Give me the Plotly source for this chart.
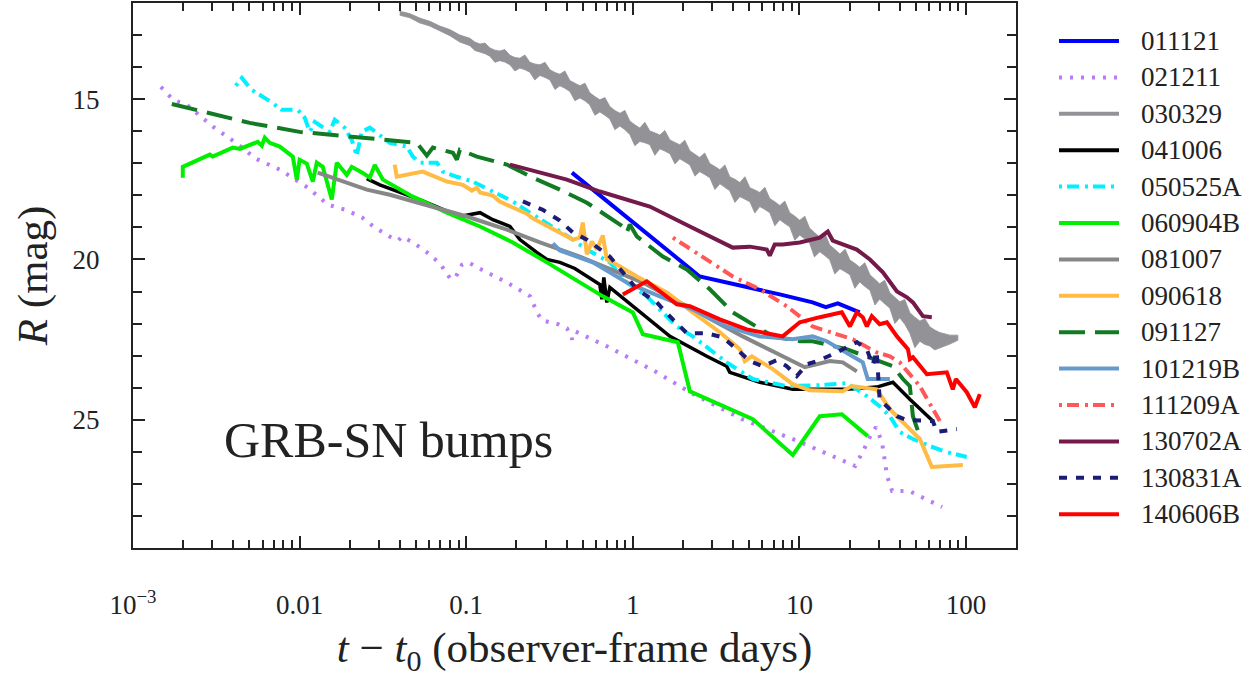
import numpy as np
import plotly.graph_objects as go

# ---------------- light-curve data (R magnitude vs. observer-frame days) -------------
names = ["011121", "021211", "030329", "041006", "050525A", "060904B", "081007",
         "090618", "091127", "101219B", "111209A", "130702A", "130831A", "140606B"]

t_011121 = [0.431, 2.52, 7.62, 12.0, 14.4, 17.0, 23.0]
R_011121 = [17.29, 20.53, 21.09, 21.34, 21.49, 21.37, 21.65]

t_021211 = [0.00147, 0.00174, 0.00211, 0.00302, 0.00415, 0.00547, 0.00762, 0.0112, 0.0148, 0.0188,
            0.0237, 0.0284, 0.0349, 0.0390, 0.0412, 0.0480, 0.0582, 0.0697, 0.0800, 0.0857,
            0.0944, 0.103, 0.126, 0.176, 0.242, 0.266, 0.285, 0.356, 0.403, 0.432,
            0.450, 0.700, 1.36, 2.30, 4.52, 9.82, 21.6, 24.1, 27.3, 28.8,
            31.3, 33.6, 36.0, 45.5, 71.8]
R_021211 = [14.62, 15.02, 15.18, 15.86, 16.36, 16.86, 17.20, 17.76, 18.29, 18.45,
            18.69, 19.01, 19.29, 19.41, 19.29, 19.47, 19.78, 20.13, 20.59, 20.59,
            20.16, 20.09, 20.34, 20.72, 21.15, 21.65, 21.90, 22.02, 22.15, 22.49,
            22.24, 22.71, 23.49, 24.20, 24.98, 25.67, 26.44, 25.98, 25.39, 25.23,
            25.70, 26.76, 27.22, 27.22, 27.72]

# 030329 is densely sampled: kept as its bright / faint envelope
t_030329 = [0.0399, 0.0458, 0.0526, 0.0605, 0.0695, 0.0798, 0.0916, 0.1052,
            0.1127, 0.121, 0.1297, 0.1387, 0.1487, 0.159, 0.1705, 0.183, 0.196, 0.210,
            0.225, 0.241, 0.258, 0.277, 0.297, 0.318, 0.341, 0.365, 0.391, 0.419,
            0.449, 0.481, 0.516, 0.552, 0.592, 0.634, 0.680, 0.728, 0.780, 0.836,
            0.896, 0.959, 1.028, 1.102, 1.181, 1.265, 1.356, 1.452, 1.557, 1.67,
            1.79, 1.914, 2.05, 2.20, 2.36, 2.52, 2.70, 2.90, 3.11, 3.33,
            3.57, 3.82, 4.10, 4.39, 4.71, 5.04, 5.40, 5.78, 6.20, 6.64,
            7.12, 7.62, 8.17, 8.75, 9.38, 10.05, 10.77, 11.5, 12.3, 13.25,
            14.2, 15.2, 16.3, 17.5, 18.8, 20.1, 21.5, 23.0, 24.7, 26.5,
            28.4, 30.3, 32.5, 34.9, 37.4, 40.0, 42.9, 46.0, 49.3, 52.8,
            56.6, 60.6, 64.9, 69.6, 80.0, 89.3]
R_030329_bright = [12.26, 12.33, 12.47, 12.57, 12.72, 12.83, 13.00, 13.10,
                   13.22, 13.28, 13.25, 13.40, 13.47, 13.50, 13.45, 13.63, 13.70, 13.72,
                   13.62, 13.85, 13.90, 13.93, 13.85, 14.08, 14.17, 14.22, 14.12, 14.42,
                   14.50, 14.58, 14.50, 14.80, 14.92, 15.02, 14.95, 15.23, 15.35, 15.44,
                   15.35, 15.68, 15.80, 15.90, 15.72, 15.99, 16.05, 16.12, 15.98, 16.27,
                   16.35, 16.42, 16.28, 16.61, 16.72, 16.82, 16.68, 17.01, 17.10, 17.20,
                   17.05, 17.42, 17.50, 17.60, 17.42, 17.76, 17.83, 17.91, 17.75, 18.10,
                   18.20, 18.32, 18.18, 18.54, 18.65, 18.78, 18.65, 19.02, 19.16, 19.30,
                   19.18, 19.55, 19.68, 19.83, 19.68, 20.02, 20.12, 20.24, 20.10, 20.48,
                   20.62, 20.76, 20.65, 21.04, 21.18, 21.32, 21.25, 21.66, 21.80, 21.92,
                   21.85, 22.10, 22.20, 22.28, 22.36, 22.36]
R_030329_faint = [12.38, 12.46, 12.62, 12.72, 12.88, 13.02, 13.22, 13.33,
                  13.48, 13.52, 13.58, 13.66, 13.85, 13.80, 13.84, 13.93, 14.12, 14.03,
                  14.08, 14.16, 14.40, 14.26, 14.32, 14.40, 14.70, 14.58, 14.66, 14.76,
                  15.05, 14.96, 15.05, 15.18, 15.50, 15.40, 15.50, 15.62, 15.95, 15.84,
                  15.95, 16.10, 16.45, 16.32, 16.36, 16.42, 16.75, 16.55, 16.62, 16.70,
                  17.02, 16.86, 16.95, 17.05, 17.40, 17.26, 17.35, 17.45, 17.82, 17.64,
                  17.75, 17.86, 18.22, 18.04, 18.12, 18.20, 18.55, 18.35, 18.44, 18.54,
                  18.95, 18.76, 18.88, 18.98, 19.40, 19.24, 19.36, 19.48, 19.92, 19.76,
                  19.88, 20.01, 20.45, 20.29, 20.38, 20.48, 20.90, 20.70, 20.84, 20.96,
                  21.42, 21.24, 21.38, 21.52, 22.00, 21.82, 22.02, 22.30, 22.75, 22.55,
                  22.65, 22.70, 22.82, 22.76, 22.64, 22.52]

t_041006 = [0.0253, 0.0303, 0.0526, 0.0916, 0.121, 0.1445, 0.183, 0.210, 0.265, 0.305,
            0.365, 0.449, 0.634, 0.652, 0.670, 0.698, 0.728, 1.057, 1.67, 2.78,
            3.66, 3.82, 5.78, 9.12, 19.2, 29.1, 36.4, 46.0, 63.2]
R_041006 = [17.48, 17.67, 18.13, 18.66, 18.54, 18.76, 18.97, 19.38, 19.78, 20.00,
            20.09, 20.28, 20.78, 21.24, 20.56, 21.34, 20.87, 21.56, 22.40, 23.02,
            23.33, 23.52, 23.83, 24.05, 24.05, 23.98, 23.83, 24.36, 25.04]

t_050525A = [0.00414, 0.00450, 0.00516, 0.00644, 0.00782, 0.00975, 0.01074, 0.01151, 0.01234, 0.01517,
             0.01626, 0.01866, 0.02056, 0.02203, 0.0236, 0.0264, 0.0348, 0.0440, 0.0478, 0.0526,
             0.0667, 0.0724, 0.0879, 0.1096, 0.1445, 0.1905, 0.251, 0.331, 0.419, 0.530,
             0.728, 0.920, 1.213, 1.452, 1.837, 2.29, 2.90, 3.66, 5.25, 8.40,
             13.25, 19.2, 22.1, 25.4, 30.3, 34.9, 40.0, 48.0, 60.6, 76.7,
             101.0]
R_050525A = [14.58, 14.34, 14.71, 15.02, 15.33, 15.33, 15.58, 16.02, 15.71, 16.02,
             15.64, 15.89, 16.27, 16.76, 16.02, 15.89, 16.36, 16.48, 16.79, 16.98,
             16.98, 17.26, 17.42, 17.57, 17.88, 18.19, 18.60, 18.97, 19.32, 19.69,
             20.09, 20.72, 21.15, 21.56, 22.09, 22.40, 22.80, 23.21, 23.73, 23.95,
             23.92, 23.86, 24.05, 24.26, 24.58, 24.89, 25.38, 25.60, 25.82, 26.01,
             26.16]

t_060904B = [0.00199, 0.00199, 0.00289, 0.00301, 0.00397, 0.00438, 0.00561, 0.00593, 0.00618, 0.00662,
             0.0076, 0.0091, 0.00962, 0.0100, 0.01104, 0.0120, 0.01268, 0.01377, 0.01560, 0.01671,
             0.01919, 0.02056, 0.02394, 0.0264, 0.02825, 0.0316, 0.0478, 0.0766, 0.121, 0.1905,
             0.305, 0.481, 0.661, 1.0, 1.148, 1.862, 2.20, 5.25, 9.12, 13.25,
             17.96, 25.7]
R_060904B = [17.45, 17.11, 16.73, 16.79, 16.51, 16.55, 16.33, 16.45, 16.20, 16.36,
             16.48, 16.79, 17.51, 16.89, 17.01, 17.57, 16.98, 17.11, 18.13, 16.98,
             17.36, 17.11, 17.30, 17.45, 17.05, 17.51, 18.04, 18.54, 18.97, 19.47,
             20.09, 20.72, 21.15, 21.65, 22.33, 22.58, 24.11, 24.98, 26.10, 24.89,
             24.83, 25.51]

t_081007 = [0.01285, 0.01919, 0.0253, 0.0348, 0.0605, 0.1009, 0.1754, 0.277, 0.481, 1.148,
            2.29, 4.57, 10.77, 15.2, 18.2, 22.1]
R_081007 = [17.29, 17.60, 17.82, 17.98, 18.35, 18.66, 19.07, 19.47, 19.91, 20.72,
            21.56, 22.40, 23.36, 23.17, 23.21, 23.49]

t_090618 = [0.0372, 0.0383, 0.0548, 0.0631, 0.0766, 0.0955, 0.1081, 0.1159, 0.121, 0.1445,
            0.159, 0.1905, 0.231, 0.251, 0.365, 0.437, 0.481, 0.501, 0.530, 0.568,
            0.608, 0.661, 0.698, 0.759, 1.057, 1.60, 2.29, 3.33, 4.39, 4.70,
            5.18, 6.92, 9.12, 11.5, 18.2, 20.6, 29.1, 34.9, 52.8, 62.3,
            95.7]
R_090618 = [17.04, 17.42, 17.26, 17.39, 17.57, 17.67, 17.85, 17.76, 17.91, 18.01,
            18.19, 18.38, 18.57, 18.72, 19.16, 19.38, 19.32, 18.85, 19.84, 19.44,
            19.69, 19.25, 20.00, 20.09, 20.53, 21.03, 21.65, 22.27, 22.80, 23.17,
            23.02, 23.42, 23.89, 24.08, 24.11, 23.95, 24.05, 24.67, 25.60, 26.47,
            26.41]

t_091127 = [0.00171, 0.00211, 0.00502, 0.0100, 0.0158, 0.0253, 0.0505, 0.0526, 0.0580, 0.0631,
            0.0832, 0.0879, 0.0916, 0.1159, 0.1754, 0.251, 0.365, 0.530, 0.759, 0.871,
            0.920, 0.959, 1.057, 1.514, 2.11, 2.90, 3.98, 5.78, 6.92, 10.05,
            12.0, 19.2, 27.5, 36.4, 41.8, 46.0, 48.0, 52.8]
R_091127 = [15.15, 15.27, 15.74, 16.02, 16.11, 16.20, 16.36, 16.48, 16.76, 16.51,
            16.67, 16.89, 16.58, 16.79, 17.04, 17.45, 17.82, 18.23, 18.76, 18.97,
            19.16, 18.91, 19.28, 19.91, 20.31, 20.93, 21.65, 22.18, 22.40, 22.55,
            22.55, 22.80, 23.11, 23.33, 23.73, 23.95, 24.89, 25.51]

t_101219B = [0.331, 0.365, 0.575, 0.920, 1.452, 2.29, 3.66, 5.78, 9.12, 12.0,
             14.6, 19.2, 24.0, 25.7, 34.9]
R_101219B = [19.50, 19.72, 20.09, 20.72, 21.15, 21.56, 22.09, 22.40, 22.49, 22.40,
             22.55, 22.90, 23.21, 23.73, 23.73]

t_111209A = [1.74, 2.63, 3.98, 5.78, 8.40, 12.0, 15.2, 20.9, 29.1, 34.9, 40.0, 52.8, 69.6]
R_111209A = [19.32, 19.91, 20.53, 20.93, 21.46, 22.09, 22.27, 22.49, 22.90, 23.02, 23.21, 23.95, 25.04]

t_130702A = [0.183, 0.402, 0.634, 1.265, 2.20, 3.98, 5.04, 6.37, 6.64, 7.11,
             7.94, 10.05, 13.25, 14.8, 15.85, 22.1, 26.5, 31.7, 38.5, 44.2,
             48.0, 55.1, 62.3]
R_130702A = [17.04, 17.51, 17.88, 18.35, 18.97, 19.63, 19.60, 19.69, 19.88, 19.53,
             19.53, 19.47, 19.32, 19.13, 19.41, 19.69, 20.00, 20.40, 21.00, 21.18,
             21.34, 21.77, 21.80]

t_130831A = [0.219, 0.288, 0.365, 0.437, 0.530, 0.728, 1.057, 1.393, 1.74, 2.11,
             2.78, 3.47, 4.21, 5.04, 6.03, 7.31, 8.40, 9.64, 11.07, 13.25,
             16.7, 22.1, 25.4, 27.5, 29.1, 30.3, 38.5, 44.2, 63.2, 66.8,
             88.1]
R_130831A = [18.19, 18.45, 18.79, 19.16, 19.38, 19.91, 20.93, 21.34, 21.87, 22.30,
             22.30, 22.43, 22.80, 23.17, 23.33, 23.14, 23.33, 23.64, 23.27, 23.14,
             22.90, 22.58, 22.80, 23.30, 22.86, 24.36, 24.89, 25.01, 25.04, 25.38,
             25.29]

t_140606B = [0.871, 1.213, 1.837, 2.20, 3.33, 4.83, 7.94, 10.05, 13.25, 17.96,
             20.1, 22.1, 24.0, 25.4, 27.2, 30.3, 33.5, 38.5, 44.8, 46.0,
             48.0, 58.2, 76.7, 83.3, 86.9, 101.0, 113.0, 121.0]
R_140606B = [21.09, 20.68, 21.40, 21.46, 21.87, 22.18, 22.40, 21.96, 21.80, 21.65,
             22.09, 21.65, 21.80, 22.09, 21.77, 22.02, 21.96, 22.40, 22.80, 23.11,
             23.05, 23.58, 23.52, 24.05, 23.73, 24.14, 24.61, 24.20]

curves = {
    "011121": (t_011121, R_011121),
    "021211": (t_021211, R_021211),
    "041006": (t_041006, R_041006),
    "050525A": (t_050525A, R_050525A),
    "060904B": (t_060904B, R_060904B),
    "081007": (t_081007, R_081007),
    "090618": (t_090618, R_090618),
    "091127": (t_091127, R_091127),
    "101219B": (t_101219B, R_101219B),
    "111209A": (t_111209A, R_111209A),
    "130702A": (t_130702A, R_130702A),
    "130831A": (t_130831A, R_130831A),
    "140606B": (t_140606B, R_140606B),
}

x_tick_vals = [1e-3, 1e-2, 0.1, 1, 10, 100]
x_tick_text = ["10<sup>−3</sup>", "0.01", "0.1", "1", "10", "100"]
y_tick_vals = [15, 20, 25]

# ---------------- line styles ----------------
DASHDOT = "3px,5px,12px,6px"
styles = {
    "011121": dict(color="#0000ff", width=4, dash="solid"),
    "021211": dict(color="#b77cf7", width=4, dash="3px,8px"),
    "030329": dict(color="#939397", width=4, dash="solid"),
    "041006": dict(color="#000000", width=3.5, dash="solid"),
    "050525A": dict(color="#00f0ff", width=4, dash=DASHDOT),
    "060904B": dict(color="#00f000", width=4, dash="solid"),
    "081007": dict(color="#878787", width=4, dash="solid"),
    "090618": dict(color="#ffbb44", width=4, dash="solid"),
    "091127": dict(color="#127a22", width=4, dash="26px,10px"),
    "101219B": dict(color="#6699cc", width=4, dash="solid"),
    "111209A": dict(color="#ff5858", width=4, dash=DASHDOT),
    "130702A": dict(color="#731a4b", width=4, dash="solid"),
    "130831A": dict(color="#1c1c78", width=4, dash="8px,9px"),
    "140606B": dict(color="#ff0000", width=4, dash="solid"),
}

FONT = "Liberation Serif"
INK = "#222222"

fig = go.Figure()
for name in names:
    st = styles[name]
    if name == "030329":
        fig.add_trace(go.Scatter(
            x=t_030329 + t_030329[::-1],
            y=R_030329_bright + R_030329_faint[::-1],
            mode="lines", fill="toself", fillcolor=st["color"],
            line=dict(color=st["color"], width=0.8),
            name=name, showlegend=False, hoverinfo="skip"))
    else:
        tt, rr = curves[name]
        fig.add_trace(go.Scatter(
            x=tt, y=rr, mode="lines", name=name, showlegend=False,
            line=dict(color=st["color"], width=st["width"], dash=st["dash"])))

# ---------------- frame geometry (pixels) ----------------
W, H = 1250, 678
PL, PR, PT, PB = 133, 1016, 3, 548


def paper_x(px):
    return (px - PL) / (PR - PL)


def paper_y(py):
    return (PB - py) / (PB - PT)


# key drawn to the right of the frame
KEY_TOP, KEY_STEP = 41, 36.4
for i, name in enumerate(names):
    st = styles[name]
    yy = paper_y(KEY_TOP + KEY_STEP * i)
    fig.add_shape(type="line", xref="paper", yref="paper",
                  x0=paper_x(1059), x1=paper_x(1119), y0=yy, y1=yy,
                  line=dict(color=st["color"], width=4, dash=st["dash"]))
    fig.add_annotation(xref="paper", yref="paper", x=paper_x(1139), y=yy,
                       text=name, showarrow=False, xanchor="left", yanchor="middle",
                       font=dict(family=FONT, size=27, color=INK))

fig.add_annotation(xref="paper", yref="paper", x=paper_x(388), y=paper_y(440),
                   text="GRB-SN bumps", showarrow=False, xanchor="center",
                   yanchor="middle", font=dict(family=FONT, size=50, color=INK))

minor_x = [k * 10.0 ** e for e in range(-3, 3) for k in range(2, 10) if k * 10.0 ** e < 200]

axis_common = dict(showline=True, linecolor=INK, linewidth=2, mirror="ticks",
                   ticks="inside", tickcolor=INK, tickwidth=1.5, showgrid=False,
                   zeroline=False, automargin=False,
                   tickfont=dict(family=FONT, size=27, color=INK))

fig.update_xaxes(type="log", range=[-3, np.log10(199.5)],
                 tickvals=x_tick_vals, ticktext=x_tick_text, ticklen=12,
                 ticklabelstandoff=32,
                 minor=dict(tickvals=minor_x, ticks="inside", ticklen=8,
                            tickwidth=1.5, tickcolor=INK, showgrid=False),
                 title=dict(text="<i>t</i> − <i>t</i><sub>0</sub> (observer-frame days)",
                            font=dict(family=FONT, size=43, color=INK), standoff=20),
                 **axis_common)
fig.update_yaxes(range=[29, 12], tickvals=y_tick_vals, ticklen=12,
                 ticklabelstandoff=26,
                 minor=dict(dtick=1, tick0=0, ticks="inside", ticklen=9,
                            tickwidth=1.5, tickcolor=INK, showgrid=False),
                 title=dict(text="<i>R</i> (mag)",
                            font=dict(family=FONT, size=43, color=INK), standoff=12),
                 **axis_common)

fig.update_layout(width=W, height=H,
                  margin=dict(l=PL, r=W - PR, t=PT, b=H - PB),
                  paper_bgcolor="white", plot_bgcolor="white",
                  showlegend=False,
                  font=dict(family=FONT, size=27, color=INK))

fig.write_html("out.html")
